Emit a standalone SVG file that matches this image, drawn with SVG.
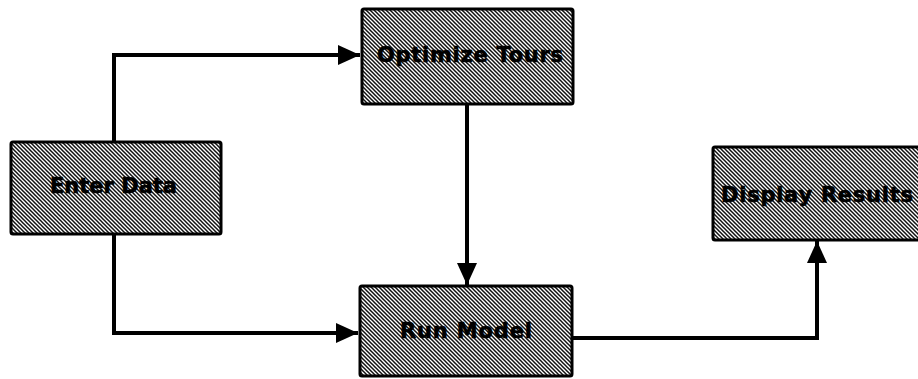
<svg xmlns="http://www.w3.org/2000/svg" width="918" height="379" viewBox="0 0 918 379">
<defs>
<pattern id="hatch" width="4" height="4" patternUnits="userSpaceOnUse">
<rect width="4" height="4" fill="#ffffff"/>
<path d="M-1,-1 L5,5 M-1,3 L1,5 M3,-1 L5,1" stroke="#111" stroke-width="1.5"/>
</pattern>
<marker id="arr" markerWidth="22" markerHeight="20" refX="22" refY="10" orient="auto" markerUnits="userSpaceOnUse">
<path d="M0,0 L22,10 L0,20 Z" fill="#000"/>
</marker>
<style>
.box{fill:url(#hatch);stroke:#000;stroke-width:3}
.lbl{font-family:"DejaVu Sans","Liberation Sans",Arial,sans-serif;font-weight:bold;font-size:21px;fill:#000;stroke:#000;stroke-width:0.6}
.conn{fill:none;stroke:#000;stroke-width:4;stroke-linejoin:miter}
</style>
</defs>
<rect width="918" height="379" fill="#fff"/>
<g id="connectors">
<path class="conn" d="M114,142 L114,55 L360,55" marker-end="url(#arr)"/>
<path class="conn" d="M114,234 L114,333 L358,333" marker-end="url(#arr)"/>
<path class="conn" d="M467,104 L467,285" marker-end="url(#arr)"/>
<path class="conn" d="M573,338 L817,338 L817,241" marker-end="url(#arr)"/>
</g>
<g id="enter-data">
<rect class="box" x="11" y="142" width="210" height="92" rx="2"/>
<text class="lbl" x="50" y="193" textLength="127" lengthAdjust="spacing">Enter Data</text>
</g>
<g id="optimize-tours">
<rect class="box" x="362" y="9" width="211" height="95" rx="2"/>
<text class="lbl" x="377" y="62" textLength="186" lengthAdjust="spacing">Optimize Tours</text>
</g>
<g id="run-model">
<rect class="box" x="360" y="286" width="212" height="90" rx="2"/>
<text class="lbl" x="400" y="338" textLength="132" lengthAdjust="spacing">Run Model</text>
</g>
<g id="display-results">
<rect class="box" x="713" y="147" width="210" height="93" rx="2"/>
<text class="lbl" x="721" y="202" textLength="192" lengthAdjust="spacing">Display Results</text>
</g>
</svg>
